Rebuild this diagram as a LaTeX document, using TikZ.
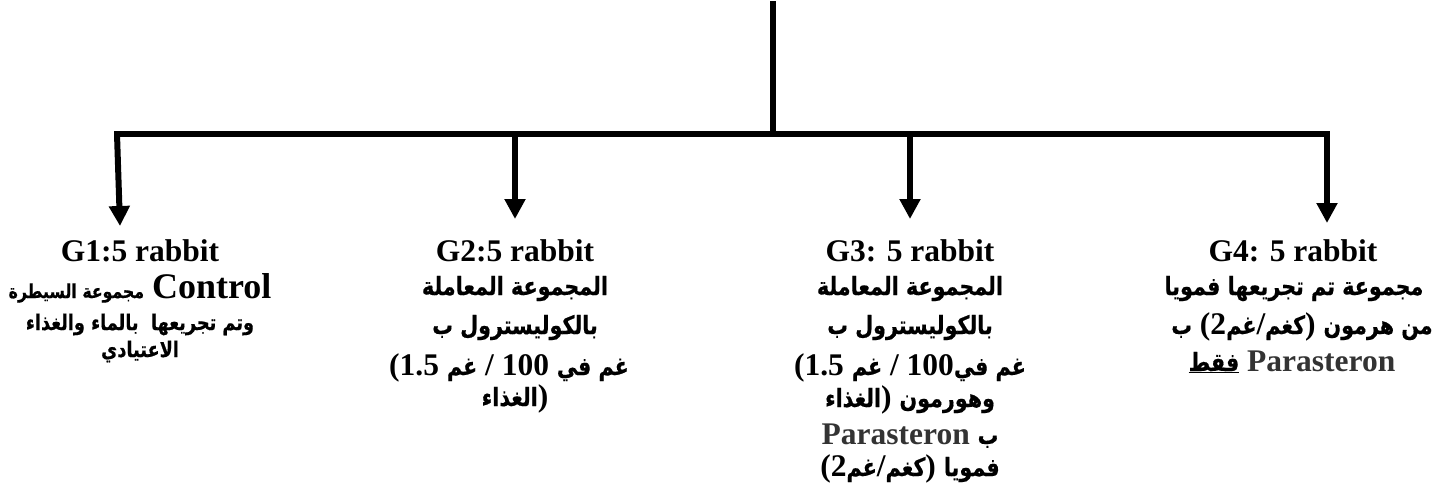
\documentclass[tikz,border=0pt]{standalone}
\usepackage{fontspec}
\setmainfont{Liberation Serif}
\newfontfamily\arabicfont[Script=Arabic,Scale=0.8,FakeStretch=0.82,BoldFeatures={FakeBold=0.5}]{DejaVu Sans}
\TeXXeTstate=1
\usetikzlibrary{arrows.meta}
\definecolor{parcol}{HTML}{333333}
\newcommand\AR[1]{{\arabicfont\bfseries\beginR #1\endR}}
\newcommand\ParaS{{\color{parcol}Parasteron}}
\tikzset{
  wire/.style={line width=6pt, line cap=rect},
  arr/.style={line width=6pt, -{Triangle[length=20pt,width=20pt]}},
  lbl/.style={anchor=base, inner sep=0pt, font=\bfseries\fontsize{31.5}{36}\selectfont},
}
\begin{document}
\begin{tikzpicture}[x=1pt,y=-1pt]
\path[use as bounding box] (0,0) rectangle (1446,488);
% connectors
\coordinate (root) at (773,4);
\coordinate (hub) at (773,134);
\coordinate (b1) at (117,134);
\coordinate (b2) at (515,134);
\coordinate (b3) at (910,134);
\coordinate (b4) at (1327,134);
\coordinate (t1) at (120,226);
\coordinate (t2) at (515,219);
\coordinate (t3) at (910,219);
\coordinate (t4) at (1327,223);
\draw[wire] (root) -- (hub);
\draw[wire] (b1) -- (b4);
\draw[arr] (b1) -- (t1);
\draw[arr] (b2) -- (t2);
\draw[arr] (b3) -- (t3);
\draw[arr] (b4) -- (t4);
% G1
\node[lbl] (g1a) at (140,261) {G1:5 rabbit};
\node[lbl] (g1b) at (140,298) {{\fontsize{24}{30}\selectfont\AR{مجموعة السيطرة}} {\fontsize{36}{40}\selectfont Control}};
\node[lbl] (g1c) at (140,330) {\fontsize{27}{30}\selectfont\AR{وتم تجريعها\ \ بالماء والغذاء}};
\node[lbl] (g1d) at (140,357) {\fontsize{27}{30}\selectfont\AR{الاعتيادي}};
% G2
\node[lbl] (g2a) at (515,261) {G2:5 rabbit};
\node[lbl] (g2b) at (515,295) {\AR{المجموعة المعاملة}};
\node[lbl] (g2c) at (515,334) {\AR{بالكوليسترول ب}};
\node[lbl] (g2d) at (509,375) {(1.5 \AR{غم} / 100 \AR{غم في}};
\node[lbl] (g2e) at (515,406) {\AR{الغذاء})};
% G3
\node[lbl] (g3a) at (910,261) {G3: 5 rabbit};
\node[lbl] (g3b) at (910,295) {\AR{المجموعة المعاملة}};
\node[lbl] (g3c) at (910,334) {\AR{بالكوليسترول ب}};
\node[lbl] (g3d) at (910,375) {(1.5 \AR{غم} / 100\AR{غم في}};
\node[lbl] (g3e) at (910,407) {\AR{الغذاء}) \AR{وهورمون}};
\node[lbl] (g3f) at (910,444) {\ParaS\ \AR{ب}};
\node[lbl] (g3g) at (910,476) {(2\AR{غم}/\AR{كغم}) \AR{فمويا}};
% G4
\node[lbl] (g4a) at (1293,261) {G4: 5 rabbit};
\node[lbl] (g4b) at (1294,295) {\AR{مجموعة تم تجريعها فمويا}};
\node[lbl] (g4c) at (1302,334) {\AR{ب} (2\AR{غم}/\AR{كغم}) \AR{من هرمون}};
\node[lbl] (g4d) at (1292,371) {\underline{\AR{فقط}} \ParaS};
\end{tikzpicture}
\end{document}
